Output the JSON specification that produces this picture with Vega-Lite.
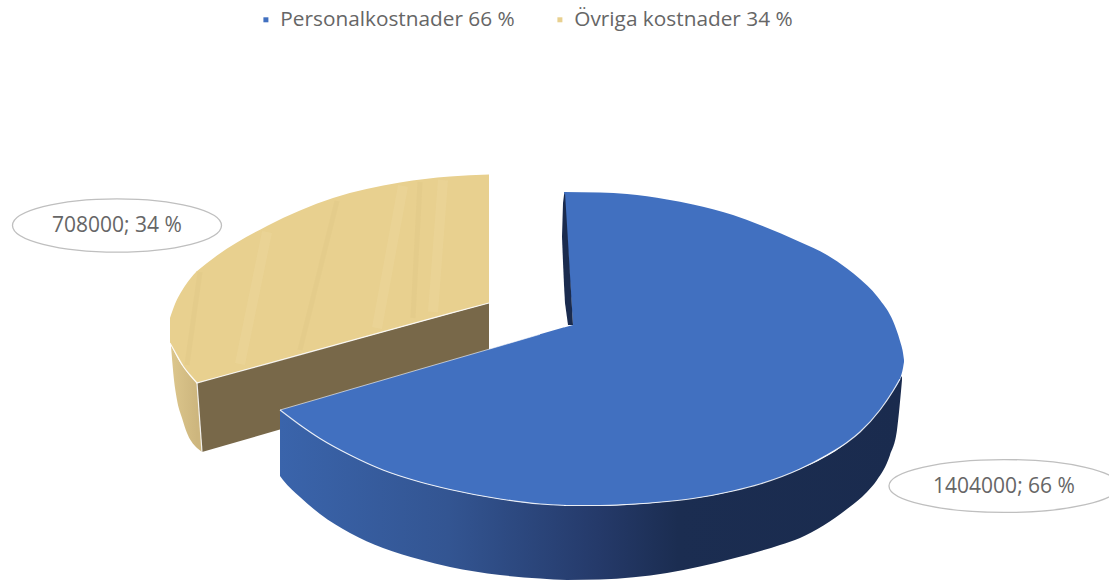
{
"$schema":"https://vega.github.io/schema/vega-lite/v6.json",
"width":1109,"height":580,
"autosize":{"type":"fit","contains":"padding"},
"padding":0,
"background":"white",
"config":{"view":{"stroke":null}},
"datasets":{
"tanSide":[{"x":171,"y":345,"y2":346},{"x":174,"y":351,"y2":380},{"x":177,"y":357,"y2":400},{"x":182,"y":365,"y2":418},{"x":187,"y":372,"y2":433},{"x":195,"y":381,"y2":446},{"x":197,"y":383,"y2":448}],
"tanEdge":[{"x":197,"y":383,"y2":448},{"x":202,"y":452,"y2":452}],
"tanWall":[{"x":197,"y":383,"y2":383},{"x":202,"y":381.6,"y2":452},{"x":489,"y":303,"y2":369}],
"tanLeft":[{"series":"Övriga kostnader 34 %","x":170,"y":318,"y2":343},{"series":"Övriga kostnader 34 %","x":175,"y":304,"y2":352},{"series":"Övriga kostnader 34 %","x":183,"y":289,"y2":366},{"series":"Övriga kostnader 34 %","x":190,"y":279,"y2":375},{"series":"Övriga kostnader 34 %","x":197,"y":271,"y2":383}],
"tanRight":[{"series":"Övriga kostnader 34 %","x":196.5,"y":271.5,"y2":383.1},{"series":"Övriga kostnader 34 %","x":217,"y":255.5,"y2":377.5},{"series":"Övriga kostnader 34 %","x":267,"y":226,"y2":363.8},{"series":"Övriga kostnader 34 %","x":333,"y":198,"y2":345.6},{"series":"Övriga kostnader 34 %","x":400,"y":182.5,"y2":327.2},{"series":"Övriga kostnader 34 %","x":450,"y":176.5,"y2":313.4},{"series":"Övriga kostnader 34 %","x":489,"y":174.5,"y2":303}],
"grain":[{"id":"a","kind":"light","x":403,"y":186},{"id":"a","kind":"light","x":377,"y":328},{"id":"b","kind":"light","x":443,"y":180},{"id":"b","kind":"light","x":433,"y":312},{"id":"c","kind":"light","x":267,"y":232},{"id":"c","kind":"light","x":240,"y":364},{"id":"d","kind":"dark","x":337,"y":201},{"id":"d","kind":"dark","x":300,"y":350},{"id":"e","kind":"dark","x":420,"y":182},{"id":"e","kind":"dark","x":413,"y":318},{"id":"f","kind":"dark","x":200,"y":272},{"id":"f","kind":"dark","x":187,"y":365}],
"blueSide":[{"x":280,"y":410,"y2":476},{"x":283,"y":412,"y2":480},{"x":300,"y":425,"y2":497},{"x":320,"y":438.5,"y2":514},{"x":350,"y":455,"y2":533},{"x":383,"y":470,"y2":548},{"x":420,"y":482,"y2":559.5},{"x":450,"y":489.5,"y2":567},{"x":500,"y":499,"y2":575},{"x":540,"y":504,"y2":578.5},{"x":567,"y":505.5,"y2":580},{"x":600,"y":505.5,"y2":579.5},{"x":667,"y":501.5,"y2":573},{"x":733,"y":491,"y2":558.5},{"x":780,"y":476,"y2":545},{"x":800,"y":469,"y2":538},{"x":847,"y":442.5,"y2":509},{"x":867,"y":424,"y2":492},{"x":877,"y":413,"y2":480},{"x":890,"y":395,"y2":455},{"x":897,"y":384,"y2":430},{"x":902,"y":376,"y2":380}],
"blueLeft":[{"series":"Personalkostnader 66 %","x":280,"y":410,"y2":410},{"series":"Personalkostnader 66 %","x":300,"y":404.2,"y2":425},{"series":"Personalkostnader 66 %","x":320,"y":398.4,"y2":438.5},{"series":"Personalkostnader 66 %","x":350,"y":389.6,"y2":455},{"series":"Personalkostnader 66 %","x":383,"y":380,"y2":470},{"series":"Personalkostnader 66 %","x":420,"y":369.2,"y2":482},{"series":"Personalkostnader 66 %","x":450,"y":360.5,"y2":489.5},{"series":"Personalkostnader 66 %","x":500,"y":346,"y2":499},{"series":"Personalkostnader 66 %","x":540,"y":334.3,"y2":504},{"series":"Personalkostnader 66 %","x":566,"y":326.8,"y2":505.5}],
"blueRight":[{"series":"Personalkostnader 66 %","x":564,"y":192,"y2":505.5},{"series":"Personalkostnader 66 %","x":600,"y":192.5,"y2":505.5},{"series":"Personalkostnader 66 %","x":627,"y":194,"y2":504.5},{"series":"Personalkostnader 66 %","x":667,"y":199.5,"y2":501.5},{"series":"Personalkostnader 66 %","x":693,"y":204.5,"y2":498.5},{"series":"Personalkostnader 66 %","x":733,"y":215,"y2":491},{"series":"Personalkostnader 66 %","x":760,"y":225,"y2":484},{"series":"Personalkostnader 66 %","x":800,"y":242,"y2":469},{"series":"Personalkostnader 66 %","x":827,"y":255,"y2":455},{"series":"Personalkostnader 66 %","x":847,"y":268.5,"y2":442.5},{"series":"Personalkostnader 66 %","x":860,"y":279,"y2":432},{"series":"Personalkostnader 66 %","x":880,"y":300,"y2":410},{"series":"Personalkostnader 66 %","x":893,"y":321,"y2":391},{"series":"Personalkostnader 66 %","x":900,"y":341,"y2":379},{"series":"Personalkostnader 66 %","x":903,"y":353,"y2":368},{"series":"Personalkostnader 66 %","x":904,"y":360,"y2":362}],
"gap":[{"x":564,"y":192.5,"y2":327.5},{"x":573,"y":325,"y2":325}],
"sliver":[{"x":562,"y":237,"y2":237},{"x":563,"y":203,"y2":262},{"x":564,"y":195,"y2":285},{"x":565,"y":193,"y2":303},{"x":568,"y":241,"y2":325},{"x":573,"y":325,"y2":325}],
"labelA":[{"x":117,"y":225.5,"label":"708000; 34 %"}],
"labelB":[{"x":1004,"y":486,"label":"1404000; 66 %"}]
},
"layer":[
{"data":{"name":"tanSide"},"mark":{"type":"area","interpolate":"monotone","fill":{"x1":0,"y1":0,"x2":1,"y2":0,"gradient":"linear","stops":[{"offset":0,"color":"#dcc68c"},{"offset":1,"color":"#cdb67e"}]}},
 "encoding":{"x":{"field":"x","type":"quantitative","scale":{"domain":[0,1109],"nice":false,"zero":false},"axis":null},"y":{"field":"y","type":"quantitative","stack":null,"scale":{"domain":[0,580],"reverse":true,"nice":false,"zero":false},"axis":null},"y2":{"field":"y2"}}},
{"data":{"name":"tanEdge"},"mark":{"type":"area","color":"#cdb67e"},
 "encoding":{"x":{"field":"x","type":"quantitative","axis":null},"y":{"field":"y","type":"quantitative","stack":null,"axis":null},"y2":{"field":"y2"}}},
{"data":{"name":"tanWall"},"mark":{"type":"area","color":"#786849"},
 "encoding":{"x":{"field":"x","type":"quantitative","axis":null},"y":{"field":"y","type":"quantitative","stack":null,"axis":null},"y2":{"field":"y2"}}},
{"data":{"name":"tanLeft"},"mark":{"type":"area","interpolate":"monotone"},
 "encoding":{"x":{"field":"x","type":"quantitative","axis":null},"y":{"field":"y","type":"quantitative","stack":null,"axis":null},"y2":{"field":"y2"},
 "color":{"field":"series","type":"nominal","scale":{"domain":["Personalkostnader 66 %","Övriga kostnader 34 %"],"range":["#4170c0","#e8d08f"]},
 "legend":{"title":null,"orient":"none","legendX":255.5,"legendY":9,"direction":"horizontal","symbolType":"square","symbolSize":25,"labelFont":"Open Sans","labelFontSize":20.8,"labelColor":"#666666","columnPadding":34,"labelLimit":400,"symbolOpacity":1}}}},
{"data":{"name":"tanRight"},"mark":{"type":"area","interpolate":"monotone"},
 "encoding":{"x":{"field":"x","type":"quantitative","axis":null},"y":{"field":"y","type":"quantitative","stack":null,"axis":null},"y2":{"field":"y2"},"color":{"field":"series","type":"nominal"}}},
{"data":{"name":"grain"},"transform":[{"filter":"datum.kind==='light'"}],"mark":{"type":"line","color":"#f2e0ab","strokeWidth":10,"opacity":0.22},
 "encoding":{"x":{"field":"x","type":"quantitative","axis":null},"y":{"field":"y","type":"quantitative","axis":null},"detail":{"field":"id"},"order":{"field":"y","type":"quantitative"}}},
{"data":{"name":"grain"},"transform":[{"filter":"datum.kind==='dark'"}],"mark":{"type":"line","color":"#d9bd7c","strokeWidth":5,"opacity":0.2},
 "encoding":{"x":{"field":"x","type":"quantitative","axis":null},"y":{"field":"y","type":"quantitative","axis":null},"detail":{"field":"id"},"order":{"field":"y","type":"quantitative"}}},
{"data":{"name":"tanLeft"},"mark":{"type":"line","interpolate":"monotone","color":"white","strokeWidth":1.2,"opacity":0.85},
 "encoding":{"x":{"field":"x","type":"quantitative","axis":null},"y":{"field":"y2","type":"quantitative","axis":null}}},
{"data":{"name":"tanRight"},"mark":{"type":"line","color":"white","strokeWidth":1.2,"opacity":0.85},
 "encoding":{"x":{"field":"x","type":"quantitative","axis":null},"y":{"field":"y2","type":"quantitative","axis":null}}},
{"data":{"name":"tanEdge"},"mark":{"type":"line","color":"white","strokeWidth":1.2,"opacity":0.85},
 "encoding":{"x":{"field":"x","type":"quantitative","axis":null},"y":{"field":"y","type":"quantitative","axis":null}}},
{"data":{"name":"blueSide"},"mark":{"type":"area","interpolate":"monotone","fill":{"x1":0,"y1":0,"x2":1,"y2":0,"gradient":"linear","stops":[{"offset":0,"color":"#3a64ab"},{"offset":0.27,"color":"#335592"},{"offset":0.51,"color":"#253a6a"},{"offset":0.64,"color":"#1b2d51"},{"offset":1,"color":"#1a2b4e"}]}},
 "encoding":{"x":{"field":"x","type":"quantitative","axis":null},"y":{"field":"y","type":"quantitative","stack":null,"axis":null},"y2":{"field":"y2"}}},
{"data":{"name":"blueLeft"},"mark":{"type":"area","interpolate":"monotone"},
 "encoding":{"x":{"field":"x","type":"quantitative","axis":null},"y":{"field":"y","type":"quantitative","stack":null,"axis":null},"y2":{"field":"y2"},"color":{"field":"series","type":"nominal"}}},
{"data":{"name":"blueRight"},"mark":{"type":"area","interpolate":"monotone"},
 "encoding":{"x":{"field":"x","type":"quantitative","axis":null},"y":{"field":"y","type":"quantitative","stack":null,"axis":null},"y2":{"field":"y2"},"color":{"field":"series","type":"nominal"}}},
{"data":{"name":"gap"},"mark":{"type":"area","color":"white"},
 "encoding":{"x":{"field":"x","type":"quantitative","axis":null},"y":{"field":"y","type":"quantitative","stack":null,"axis":null},"y2":{"field":"y2"}}},
{"data":{"name":"sliver"},"mark":{"type":"area","color":"#1a2b4e"},
 "encoding":{"x":{"field":"x","type":"quantitative","axis":null},"y":{"field":"y","type":"quantitative","stack":null,"axis":null},"y2":{"field":"y2"}}},
{"data":{"name":"blueLeft"},"mark":{"type":"line","interpolate":"monotone","color":"white","strokeWidth":1.2,"opacity":0.85},
 "encoding":{"x":{"field":"x","type":"quantitative","axis":null},"y":{"field":"y2","type":"quantitative","axis":null}}},
{"data":{"name":"blueRight"},"transform":[{"filter":"datum.x<=900"}],"mark":{"type":"line","interpolate":"monotone","color":"white","strokeWidth":1.2,"opacity":0.85},
 "encoding":{"x":{"field":"x","type":"quantitative","axis":null},"y":{"field":"y2","type":"quantitative","axis":null}}},
{"data":{"name":"blueLeft"},"transform":[{"filter":"datum.x<=540"}],"mark":{"type":"line","color":"white","strokeWidth":1,"opacity":0.6},
 "encoding":{"x":{"field":"x","type":"quantitative","axis":null},"y":{"field":"y","type":"quantitative","axis":null}}},
{"data":{"name":"labelA"},"mark":{"type":"point","clip":true,"shape":"M-1,0A1,0.255,0,1,1,1,0A1,0.255,0,1,1,-1,0Z","size":43680,"filled":false,"stroke":"#bfbfbf","strokeWidth":1.3,"opacity":1},
 "encoding":{"x":{"field":"x","type":"quantitative","axis":null},"y":{"field":"y","type":"quantitative","axis":null}}},
{"data":{"name":"labelB"},"mark":{"type":"point","clip":true,"shape":"M-1,0A1,0.23,0,1,1,1,0A1,0.23,0,1,1,-1,0Z","size":52900,"filled":false,"stroke":"#bfbfbf","strokeWidth":1.3,"opacity":1},
 "encoding":{"x":{"field":"x","type":"quantitative","axis":null},"y":{"field":"y","type":"quantitative","axis":null}}},
{"data":{"name":"labelA"},"mark":{"type":"text","font":"Open Sans","fontSize":21,"color":"#666666","dy":0.5},
 "encoding":{"x":{"field":"x","type":"quantitative","axis":null},"y":{"field":"y","type":"quantitative","axis":null},"text":{"field":"label"}}},
{"data":{"name":"labelB"},"mark":{"type":"text","font":"Open Sans","fontSize":21,"color":"#666666","dy":1},
 "encoding":{"x":{"field":"x","type":"quantitative","axis":null},"y":{"field":"y","type":"quantitative","axis":null},"text":{"field":"label"}}}
]
}
